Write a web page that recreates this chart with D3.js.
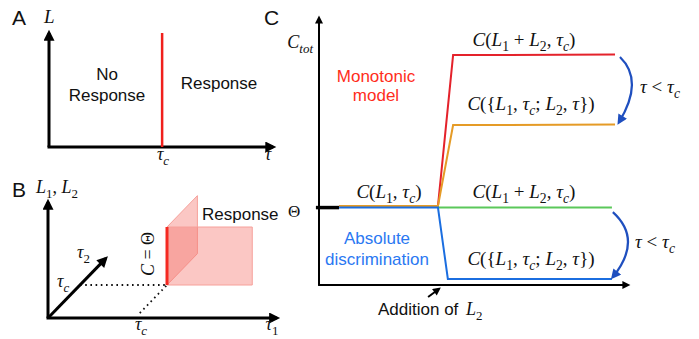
<!DOCTYPE html>
<html>
<head>
<meta charset="utf-8">
<script src="https://cdn.jsdelivr.net/npm/d3@7"></script>
<style>
body { margin: 0; background: #fff; }
svg { display: block; }
</style>
</head>
<body>
<div class="container"></div>
<script>
// ---- panel A : response boundary in (tau, L)
var tauRangeA = [0, 2.0];
var LRangeA = [0, 1.0];
var tauCritA = 1.01;

// ---- panel B : 3D sketch (tau1, tau2, L)
var tau1Max = 2.63, tau2Max = 1.8, LMaxB = 2.0;
var tauCritB = 1.0;
var wallAlongTau1 = [1.0, 1.98];   // tau1 extent of response wall (at tau2 = tauc)
var wallAlongTau2 = [1.0, 1.95];   // tau2 extent of response wall (at tau1 = tauc)
var wallHeight = [0, 1.0];

// ---- panel C : total output vs time (arbitrary units 0..100)
var theta = 29.0;
var monoTimes = [6.5, 38.5, 43.4, 95.8];
var monoHigh = [29.6, 29.6, 86.1, 86.3];   // C(L1+L2, tauc)
var monoLow  = [29.6, 29.6, 59.9, 60.1];   // C({L1,tauc;L2,tau})
var absTimesHigh = [38.5, 94.8];
var absHigh = [29.0, 29.0];                // C(L1+L2, tauc)
var absTimesLow = [6.5, 38.5, 41.7, 94.8];
var absLow = [29.0, 29.0, 2.25, 2.25];     // C({L1,tauc;L2,tau})
var thetaStub = [-1, 6.5];
var curveUpper = [[97.4, 85.4], [105.3, 76.6], [97.1, 61.0]];
var curveLower = [[95.1, 27.3], [104.9, 17.0], [95.1, 3.0]];
var additionArrow = [[35.3, -4.5], [38.8, -1.5]];

var cRed = "#e4222b", cOrange = "#e59b26", cGreen = "#5bc85a", cBlue = "#1b6ee0";
var serif = "'Liberation Serif', 'Times New Roman', serif";
var sans = "'Liberation Sans', Arial, Helvetica, sans-serif";

var svg = d3.select(".container").append("svg")
    .attr("width", 699)
    .attr("height", 339);

var defs = svg.append("defs");
function makeMarker(id, color, w, h) {
    defs.append("marker")
        .attr("id", id)
        .attr("viewBox", "0 0 10 10")
        .attr("refX", 7)
        .attr("refY", 5)
        .attr("markerUnits", "userSpaceOnUse")
        .attr("markerWidth", w)
        .attr("markerHeight", h)
        .attr("orient", "auto")
        .append("path")
        .attr("d", "M0,0 L10,5 L0,10 z")
        .attr("fill", color);
}
makeMarker("headBig", "#000", 12, 11);
makeMarker("headC", "#000", 10, 8);
makeMarker("headBlue", "#1f4fbf", 11, 10);

// math text helper: parts = [text, kind]  kind: i italic, r roman, s sub roman, si sub italic
function mathText(g, x, y, parts, size, anchor) {
    var t = g.append("text")
        .attr("x", x).attr("y", y)
        .attr("font-family", serif)
        .attr("font-size", size)
        .attr("text-anchor", anchor || "start")
        .attr("fill", "#111");
    var shift = 0;
    parts.forEach(function (p) {
        var sub = (p[1] == "s" || p[1] == "si");
        var want = sub ? size * 0.25 : 0;
        t.append("tspan")
            .attr("dy", want - shift)
            .attr("font-style", (p[1] == "i" || p[1] == "si") ? "italic" : "normal")
            .attr("font-size", sub ? size * 0.72 : size)
            .text(p[0]);
        shift = want;
    });
    return t;
}
function sansText(g, x, y, str, size, color, anchor) {
    return g.append("text")
        .attr("x", x).attr("y", y)
        .attr("font-family", sans)
        .attr("font-size", size)
        .attr("fill", color || "#111")
        .attr("text-anchor", anchor || "start")
        .text(str);
}

var line = d3.line();

// =================== Panel A ===================
var gA = svg.append("g");
var xA = d3.scaleLinear().domain(tauRangeA).range([49, 273]);
var yA = d3.scaleLinear().domain(LRangeA).range([147, 33]);

gA.append("path")
    .attr("d", line([[xA(0), yA(0)], [xA(0), yA(1)]]))
    .attr("stroke", "#000").attr("stroke-width", 3)
    .attr("marker-end", "url(#headBig)");
gA.append("path")
    .attr("d", line([[xA(0) - 1.5, yA(0)], [xA(2), yA(0)]]))
    .attr("stroke", "#000").attr("stroke-width", 3)
    .attr("marker-end", "url(#headBig)");
gA.append("path")
    .attr("d", line([[xA(tauCritA), yA(0)], [xA(tauCritA), yA(1)]]))
    .attr("stroke", "#f0201c").attr("stroke-width", 2.5);

sansText(gA, 12, 25, "A", 21);
mathText(gA, 44, 23, [["L", "i"]], 19);
sansText(gA, 107, 80, "No", 17, "#111", "middle");
sansText(gA, 107, 101, "Response", 17, "#111", "middle");
sansText(gA, 219, 89, "Response", 17, "#111", "middle");
mathText(gA, 163, 160, [["τ", "i"], ["c", "si"]], 18, "middle");
mathText(gA, 268, 160, [["τ", "i"]], 18, "middle");

// =================== Panel B ===================
var gB = svg.append("g");
var s1 = d3.scaleLinear().domain([0, 1]).range([0, 87]);
var s2 = d3.scaleLinear().domain([0, 1]).range([0, 32]);
var s2y = d3.scaleLinear().domain([0, 1]).range([0, 33]);
var sL = d3.scaleLinear().domain([0, 1]).range([0, 58]);
var ox = 48, oy = 318;
function proj(t1, t2, L) {
    return [ox + s1(t1) + s2(t2), oy - sL(L) - s2y(t2)];
}

// response walls
var wall2 = [proj(tauCritB, wallAlongTau2[0], wallHeight[0]), proj(tauCritB, wallAlongTau2[1], wallHeight[0]),
             proj(tauCritB, wallAlongTau2[1], wallHeight[1]), proj(tauCritB, wallAlongTau2[0], wallHeight[1])];
var wall1 = [proj(wallAlongTau1[0], tauCritB, wallHeight[0]), proj(wallAlongTau1[1], tauCritB, wallHeight[0]),
             proj(wallAlongTau1[1], tauCritB, wallHeight[1]), proj(wallAlongTau1[0], tauCritB, wallHeight[1])];
[wall2, wall1].forEach(function (w) {
    gB.append("path")
        .attr("d", line(w) + "Z")
        .attr("fill", "#f4736b").attr("fill-opacity", 0.4)
        .attr("stroke", "#f6a09a").attr("stroke-width", 1);
});
gB.append("path")
    .attr("d", line([proj(tauCritB, tauCritB, 0), proj(tauCritB, tauCritB, wallHeight[1])]))
    .attr("stroke", "#f42a22").attr("stroke-width", 3);

// dotted guides
gB.append("path")
    .attr("d", line([proj(0, tauCritB, 0), proj(tauCritB, tauCritB, 0)]))
    .attr("stroke", "#111").attr("stroke-width", 1.8)
    .attr("stroke-dasharray", "1.6 3.6").attr("fill", "none");
gB.append("path")
    .attr("d", line([proj(tauCritB, 0.15, 0), proj(tauCritB, tauCritB, 0)]))
    .attr("stroke", "#111").attr("stroke-width", 1.8)
    .attr("stroke-dasharray", "1.6 3.6").attr("fill", "none");

// axes
gB.append("path")
    .attr("d", line([proj(0, 0, 0), proj(0, 0, LMaxB)]))
    .attr("stroke", "#000").attr("stroke-width", 3)
    .attr("marker-end", "url(#headBig)");
gB.append("path")
    .attr("d", line([[ox - 1.5, oy], proj(tau1Max, 0, 0)]))
    .attr("stroke", "#000").attr("stroke-width", 3)
    .attr("marker-end", "url(#headBig)");
gB.append("path")
    .attr("d", line([proj(0, 0, 0), proj(0, tau2Max, 0)]))
    .attr("stroke", "#000").attr("stroke-width", 3)
    .attr("marker-end", "url(#headBig)");

sansText(gB, 12, 197, "B", 21);
mathText(gB, 36, 193, [["L", "i"], ["1", "s"], [", ", "r"], ["L", "i"], ["2", "s"]], 18);
mathText(gB, 77, 258, [["τ", "i"], ["2", "s"]], 18);
mathText(gB, 57, 287, [["τ", "i"], ["c", "si"]], 18);
mathText(gB, 141, 330, [["τ", "i"], ["c", "si"]], 18, "middle");
mathText(gB, 272, 330, [["τ", "i"], ["1", "s"]], 18, "middle");
sansText(gB, 202, 220, "Response", 17);
mathText(gB, 0, 0, [["C", "i"], [" = ", "r"], ["Θ", "r"]], 18, "middle")
    .attr("transform", "translate(154,254) rotate(-90)");

// =================== Panel C ===================
var gC = svg.append("g");
var xC = d3.scaleLinear().domain([0, 100]).range([319, 628]);
var yC = d3.scaleLinear().domain([0, 100]).range([285, 18]);
var lineC = d3.line().x(function (d) { return xC(d[0]); }).y(function (d) { return yC(d[1]); });
function zipSeries(ts, vs) { return ts.map(function (t, i) { return [t, vs[i]]; }); }

// axes
gC.append("path")
    .attr("d", lineC([[0, 0], [0, 100]]))
    .attr("stroke", "#000").attr("stroke-width", 2)
    .attr("marker-end", "url(#headC)");
gC.append("path")
    .attr("d", lineC([[-0.3, 0], [100, 0]]))
    .attr("stroke", "#000").attr("stroke-width", 2)
    .attr("marker-end", "url(#headC)");

// threshold stub
gC.append("path")
    .attr("d", lineC(thetaStub.map(function (t) { return [t, theta]; })))
    .attr("stroke", "#000").attr("stroke-width", 3.5);

var series = [
    { pts: zipSeries(monoTimes, monoHigh), color: cRed },
    { pts: zipSeries(monoTimes, monoLow), color: cOrange },
    { pts: zipSeries(absTimesHigh, absHigh), color: cGreen },
    { pts: zipSeries(absTimesLow, absLow), color: cBlue }
];
gC.selectAll("path.series")
    .data(series)
    .enter()
    .append("path")
    .attr("class", "series")
    .attr("d", function (d) { return lineC(d.pts); })
    .attr("fill", "none")
    .attr("stroke", function (d) { return d.color; })
    .attr("stroke-width", 2)
    .attr("stroke-linejoin", "miter");

// curved blue arrows
function curvePath(c) {
    var p = d3.path();
    p.moveTo(xC(c[0][0]), yC(c[0][1]));
    p.quadraticCurveTo(xC(c[1][0]), yC(c[1][1]), xC(c[2][0]), yC(c[2][1]));
    return p.toString();
}
[curveUpper, curveLower].forEach(function (c) {
    gC.append("path")
        .attr("d", curvePath(c))
        .attr("fill", "none")
        .attr("stroke", "#1f4fbf").attr("stroke-width", 2.2)
        .attr("marker-end", "url(#headBlue)");
});

// addition of L2 arrow
gC.append("path")
    .attr("d", lineC(additionArrow))
    .attr("stroke", "#000").attr("stroke-width", 2)
    .attr("marker-end", "url(#headC)");

// labels
sansText(gC, 264, 25, "C", 21);
mathText(gC, 313, 48, [["C", "i"], ["tot", "si"]], 18, "end");
mathText(gC, 288, 217, [["Θ", "r"]], 17);
sansText(gC, 376, 82, "Monotonic", 17, "#ff2d1c", "middle");
sansText(gC, 376, 101, "model", 17, "#ff2d1c", "middle");
sansText(gC, 377, 244, "Absolute", 17, "#2a78f2", "middle");
sansText(gC, 377, 265, "discrimination", 17, "#2a78f2", "middle");
sansText(gC, 378, 315, "Addition of", 17);
mathText(gC, 466, 315, [["L", "i"], ["2", "s"]], 18);

var bigC = [["C", "i"], ["(", "r"], ["L", "i"], ["1", "s"], [" + ", "r"], ["L", "i"], ["2", "s"], [", ", "r"], ["τ", "i"], ["c", "si"], [")", "r"]];
var mixC = [["C", "i"], ["({", "r"], ["L", "i"], ["1", "s"], [", ", "r"], ["τ", "i"], ["c", "si"], ["; ", "r"], ["L", "i"], ["2", "s"], [", ", "r"], ["τ", "i"], ["})", "r"]];
var oneC = [["C", "i"], ["(", "r"], ["L", "i"], ["1", "s"], [", ", "r"], ["τ", "i"], ["c", "si"], [")", "r"]];
var ineq = [["τ", "i"], [" < ", "r"], ["τ", "i"], ["c", "si"]];

mathText(gC, 524, 46, bigC, 19, "middle");
mathText(gC, 531, 110, mixC, 19, "middle");
mathText(gC, 389, 198, oneC, 19, "middle");
mathText(gC, 524, 198, bigC, 19, "middle");
mathText(gC, 531, 265, mixC, 19, "middle");
mathText(gC, 660, 93, ineq, 19, "middle");
mathText(gC, 655, 248, ineq, 19, "middle");
</script>
</body>
</html>
